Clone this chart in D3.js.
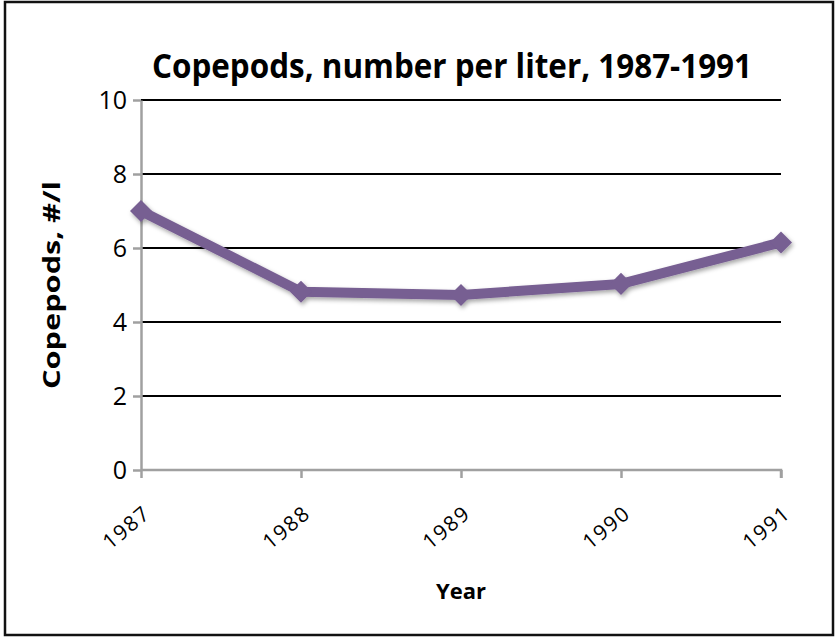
<!DOCTYPE html>
<html>
<head>
<meta charset="utf-8">
<script src="https://cdn.jsdelivr.net/npm/d3@7"></script>
<style>
  body { margin: 0; background: #fff; }
  svg { display: block; }
</style>
</head>
<body>
<div id="chart"></div>
<script>
var years = ["1987", "1988", "1989", "1990", "1991"];
var copepods = [7.0, 4.82, 4.73, 5.03, 6.15];
var yTicks = [0, 2, 4, 6, 8, 10];

var width = 835,
    height = 637;
var margin = { left: 141, right: 54, top: 100, bottom: 167 };

var svg = d3.select("#chart").append("svg")
    .attr("width", width)
    .attr("height", height)
    .style("font-family", "'Open Sans', 'DejaVu Sans', sans-serif");

// drop shadow for the line + markers
var defs = svg.append("defs");
var f = defs.append("filter").attr("id", "shadow")
    .attr("x", "-20%").attr("y", "-20%").attr("width", "140%").attr("height", "140%");
f.append("feDropShadow")
    .attr("dx", 1.5).attr("dy", 2.5).attr("stdDeviation", 2)
    .attr("flood-color", "#000").attr("flood-opacity", 0.35);

// outer frame
svg.append("rect")
    .attr("x", 5).attr("y", 2)
    .attr("width", 828).attr("height", 633)
    .attr("fill", "none")
    .attr("stroke", "#111")
    .attr("stroke-width", 2.5);

var x = d3.scalePoint()
    .domain(years)
    .range([margin.left, width - margin.right]);

var y = d3.scaleLinear()
    .domain([0, 10])
    .range([height - margin.bottom, margin.top]);

// gridlines
svg.append("g")
    .selectAll("line")
    .data(yTicks.filter(d => d > 0))
    .enter().append("line")
    .attr("x1", margin.left)
    .attr("x2", width - margin.right)
    .attr("y1", d => y(d))
    .attr("y2", d => y(d))
    .attr("stroke", "#000")
    .attr("stroke-width", 2);

// y axis
var yAxis = svg.append("g")
    .attr("transform", `translate(${margin.left},0)`)
    .call(d3.axisLeft(y).tickValues(yTicks).tickSize(8).tickSizeOuter(0).tickPadding(6));
yAxis.selectAll("path, line").attr("stroke", "#a0a0a0").attr("stroke-width", 2.5);
yAxis.selectAll("text")
    .style("font-size", "25px")
    .style("font-family", "'Open Sans', sans-serif")
    .attr("fill", "#000");

// x axis
var xAxis = svg.append("g")
    .attr("transform", `translate(0,${y(0)})`)
    .call(d3.axisBottom(x).tickSize(8).tickSizeOuter(0).tickFormat(""));
xAxis.select(".domain")
    .attr("d", `M${margin.left},0H${width - margin.right}V8`);
xAxis.selectAll("path, line").attr("stroke", "#a0a0a0").attr("stroke-width", 2.5);

svg.append("g")
    .selectAll("text")
    .data(years)
    .enter().append("text")
    .attr("transform", d => `translate(${x(d) + 6},${y(0) + 40}) rotate(-40)`)
    .attr("text-anchor", "end")
    .attr("dy", "0.35em")
    .style("font-size", "21px")
    .style("letter-spacing", "1.5px")
    .text(d => d);

// line
var line = d3.line()
    .x((d, i) => x(years[i]))
    .y(d => y(d));

var series = svg.append("g").attr("filter", "url(#shadow)");
series.append("path")
    .datum(copepods)
    .attr("d", line)
    .attr("fill", "none")
    .attr("stroke", "#775e92")
    .attr("stroke-width", 10)
    .attr("stroke-linejoin", "round");

series.selectAll("path.marker")
    .data(copepods)
    .enter().append("path")
    .attr("class", "marker")
    .attr("d", d3.symbol().type(d3.symbolDiamond2).size(310))
    .attr("transform", (d, i) => `translate(${x(years[i])},${y(d)})`)
    .attr("fill", "#775e92");

// title
svg.append("text")
    .attr("x", 452)
    .attr("y", 78)
    .attr("text-anchor", "middle")
    .style("font-size", "34px")
    .style("font-weight", "bold")
    .attr("textLength", 600)
    .attr("lengthAdjust", "spacingAndGlyphs")
    .text("Copepods, number per liter, 1987-1991");

// axis titles
svg.append("text")
    .attr("transform", "translate(52,285) rotate(-90)")
    .attr("text-anchor", "middle")
    .attr("dy", "0.35em")
    .style("font-size", "23px")
    .style("font-weight", "bold")
    .attr("textLength", 208)
    .attr("lengthAdjust", "spacingAndGlyphs")
    .text("Copepods, #/l");

svg.append("text")
    .attr("x", 461)
    .attr("y", 591)
    .attr("text-anchor", "middle")
    .attr("dy", "0.35em")
    .style("font-size", "22px")
    .style("font-weight", "bold")
    .text("Year");
</script>
</body>
</html>
